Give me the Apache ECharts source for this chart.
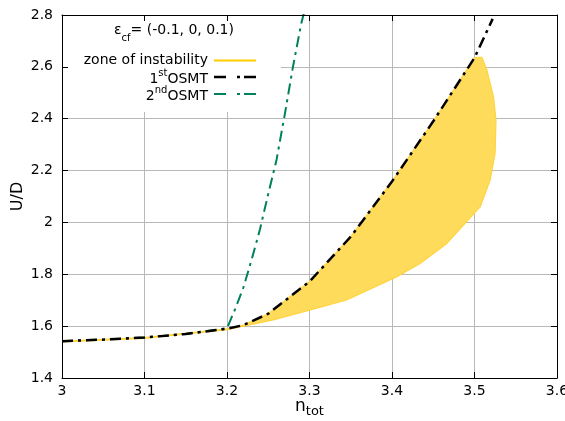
<!DOCTYPE html>
<html>
<head>
<meta charset="utf-8">
<script src="https://cdn.jsdelivr.net/npm/echarts@6/dist/echarts.min.js"></script>
<style>html,body{margin:0;padding:0;background:#fff}#c{width:565px;height:421px}</style>
</head>
<body>
<div id="c"></div>
<script>
// ---- data ----
var nOsmt1 = [3.0, 3.05, 3.1, 3.15, 3.2, 3.22, 3.25, 3.3, 3.35, 3.4, 3.45, 3.5, 3.522];
var uOsmt1 = [1.542, 1.548, 1.556, 1.570, 1.590, 1.604, 1.648, 1.772, 1.945, 2.158, 2.390, 2.635, 2.785];

var nOsmt2 = [3.0, 3.05, 3.1, 3.15, 3.2, 3.21, 3.22, 3.23, 3.24, 3.25, 3.26, 3.27, 3.28, 3.29, 3.295];
var uOsmt2 = [1.542, 1.548, 1.556, 1.570, 1.592, 1.667, 1.750, 1.858, 1.974, 2.110, 2.241, 2.416, 2.601, 2.767, 2.83];

var zoneN = [3.0, 3.1, 3.2, 3.22, 3.25, 3.3, 3.35, 3.4, 3.45, 3.5, 3.505, 3.509, 3.515, 3.523, 3.526, 3.525, 3.519, 3.507, 3.4905, 3.466, 3.434, 3.406, 3.345, 3.3, 3.256, 3.22, 3.2, 3.1, 3.0];
var zoneU = [1.542, 1.556, 1.590, 1.604, 1.648, 1.772, 1.945, 2.158, 2.390, 2.635, 2.637, 2.637, 2.588, 2.485, 2.395, 2.267, 2.164, 2.061, 2.003, 1.918, 1.842, 1.791, 1.701, 1.662, 1.624, 1.600, 1.586, 1.553, 1.539];

var xMin = 3.0, xMax = 3.6, xStep = 0.1;
var yMin = 1.4, yMax = 2.8, yStep = 0.2;

var seriesNames = ['zone of instability', '1stOSMT', '2ndOSMT'];
var titleText = ['\u03b5', 'cf', '= (-0.1, 0, 0.1)'];

function pairs(a, b) { return a.map(function (v, i) { return [v, b[i]]; }); }

var FONT = 'DejaVu Sans';
var colZoneFill = '#ffdb5c', colZoneLine = '#ffcc00', colBlack = '#000000', colGreen = '#00805c';
var dashDot = [11, 5, 3, 5];

var chart = echarts.init(document.getElementById('c'), null, {renderer: 'canvas'});

function axisBase(extra) {
  return Object.assign({type: 'value'}, extra);
}
var tickAxis = {
  axisLine: {show: true, lineStyle: {color: '#000', width: 1}},
  axisTick: {show: true, inside: true, length: 6, lineStyle: {color: '#000', width: 1}},
  splitLine: {show: false}
};

var option = {
  animation: false,
  backgroundColor: '#fff',
  grid: {left: 62, right: 8, top: 15, bottom: 43, containLabel: false, outerBoundsMode: 'none'},
  xAxis: [
    axisBase(Object.assign({}, tickAxis, {
      position: 'bottom', min: xMin, max: xMax, interval: xStep, z: 5,
      axisLabel: {color: '#000', fontSize: 14, fontFamily: FONT, margin: 6},
      name: '{n|n}{s|tot}', nameLocation: 'middle', nameGap: 20, nameMoveOverlap: false,
      nameTextStyle: {color: '#000', fontFamily: FONT, rich: {
        n: {fontSize: 17, fontFamily: FONT, color: '#000', verticalAlign: 'top', lineHeight: 20},
        s: {fontSize: 13, fontFamily: FONT, color: '#000', verticalAlign: 'bottom', lineHeight: 20}
      }}
    })),
    axisBase(Object.assign({}, tickAxis, {
      position: 'top', min: xMin, max: xMax, interval: xStep, z: 5,
      axisLabel: {show: false}
    })),
    axisBase({
      position: 'bottom', min: xMin, max: xMax, interval: xStep, z: 0,
      axisLine: {show: false}, axisTick: {show: false}, axisLabel: {show: false},
      splitLine: {show: true, lineStyle: {color: '#b8b8b8', width: 1}}
    })
  ],
  yAxis: [
    axisBase(Object.assign({}, tickAxis, {
      position: 'left', min: yMin, max: yMax, interval: yStep, z: 5,
      axisLabel: {color: '#000', fontSize: 14, fontFamily: FONT, margin: 9},
      name: 'U/D', nameLocation: 'middle', nameGap: 36, nameRotate: 90, nameMoveOverlap: false,
      nameTextStyle: {color: '#000', fontSize: 16, fontFamily: FONT}
    })),
    axisBase(Object.assign({}, tickAxis, {
      position: 'right', min: yMin, max: yMax, interval: yStep, z: 5,
      axisLabel: {show: false}
    })),
    axisBase({
      position: 'left', min: yMin, max: yMax, interval: yStep, z: 0,
      axisLine: {show: false}, axisTick: {show: false}, axisLabel: {show: false},
      splitLine: {show: true, lineStyle: {color: '#b8b8b8', width: 1}}
    })
  ],
  series: [
    {
      name: seriesNames[0], type: 'custom', xAxisIndex: 0, yAxisIndex: 0, z: 2,
      data: [0],
      renderItem: function (params, api) {
        var pts = zoneN.map(function (n, i) { return api.coord([n, zoneU[i]]); });
        return {
          type: 'polygon',
          shape: {points: pts},
          style: {fill: colZoneFill, stroke: '#ffd43f', lineWidth: 1.2}
        };
      },
      clip: true
    },
    {
      name: seriesNames[1], type: 'line', xAxisIndex: 0, yAxisIndex: 0, z: 4,
      data: pairs(nOsmt1, uOsmt1), showSymbol: false, symbol: 'none', clip: true,
      lineStyle: {color: colBlack, width: 2.5, type: dashDot}
    },
    {
      name: seriesNames[2], type: 'line', xAxisIndex: 0, yAxisIndex: 0, z: 3,
      data: pairs(nOsmt2, uOsmt2), showSymbol: false, symbol: 'none', clip: true,
      lineStyle: {color: colGreen, width: 2, type: dashDot}
    }
  ],
  graphic: [
    {type: 'rect', z: 1, shape: {x: 63, y: 16, width: 218, height: 96}, style: {fill: '#fff'}},
    {type: 'text', z: 10, x: 174, y: 33, style: {
      text: '{a|' + titleText[0] + '}{b|' + titleText[1] + '}{a|' + titleText[2] + '}',
      align: 'center', verticalAlign: 'middle',
      rich: {
        a: {fontSize: 14, fontFamily: FONT, fill: '#000', verticalAlign: 'top', lineHeight: 20},
        b: {fontSize: 10, fontFamily: FONT, fill: '#000', verticalAlign: 'bottom', lineHeight: 20}
      }
    }},
    {type: 'text', z: 10, x: 208, y: 60, style: {
      text: seriesNames[0], align: 'right', verticalAlign: 'middle',
      font: '14px "DejaVu Sans"', fill: '#000'
    }},
    {type: 'text', z: 10, x: 208, y: 77, style: {
      text: '{a|1}{b|st}{a|OSMT}', align: 'right', verticalAlign: 'middle',
      rich: {
        a: {fontSize: 14, fontFamily: FONT, fill: '#000', verticalAlign: 'bottom', lineHeight: 18},
        b: {fontSize: 10, fontFamily: FONT, fill: '#000', verticalAlign: 'top', lineHeight: 18}
      }
    }},
    {type: 'text', z: 10, x: 208, y: 94, style: {
      text: '{a|2}{b|nd}{a|OSMT}', align: 'right', verticalAlign: 'middle',
      rich: {
        a: {fontSize: 14, fontFamily: FONT, fill: '#000', verticalAlign: 'bottom', lineHeight: 18},
        b: {fontSize: 10, fontFamily: FONT, fill: '#000', verticalAlign: 'top', lineHeight: 18}
      }
    }},
    {type: 'line', z: 10, shape: {x1: 214, y1: 60.5, x2: 256, y2: 60.5}, style: {stroke: colZoneLine, lineWidth: 2}},
    {type: 'line', z: 10, shape: {x1: 214, y1: 77, x2: 256, y2: 77}, style: {stroke: colBlack, lineWidth: 2.5, lineDash: [12, 11, 3, 4]}},
    {type: 'line', z: 10, shape: {x1: 214, y1: 94, x2: 256, y2: 94}, style: {stroke: colGreen, lineWidth: 2, lineDash: [12, 11, 3, 4]}}
  ]
};
chart.setOption(option);
</script>
</body>
</html>
